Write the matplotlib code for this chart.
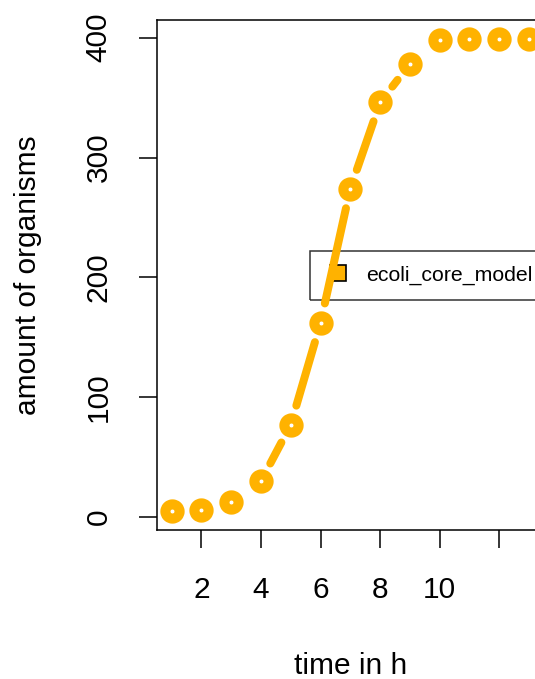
import numpy as np
import matplotlib
matplotlib.use("Agg")
import matplotlib.pyplot as plt
from matplotlib.lines import Line2D

# growth curve
hours = [1, 2, 3, 4, 5, 6, 7, 8, 9, 10, 11, 12, 13]
organisms = [5, 6, 13, 30, 77, 162, 274, 346, 378, 398, 399, 399, 399]
series_name = "ecoli_core_model"
x_ticks = [2, 4, 6, 8, 10, 12]
x_tick_labels = ["2", "4", "6", "8", "10", ""]
y_ticks = [0, 100, 200, 300, 400]

color = "#FFB200"
plt.rcParams["font.family"] = ["Liberation Sans", "DejaVu Sans"]

W, H, DPI = 535, 679, 100
fig = plt.figure(figsize=(W / DPI, H / DPI), dpi=DPI)

# R style: 4% padding on both axes, plot region spills past the right edge
def padded(vals):
    lo, hi = min(vals), max(vals)
    d = (hi - lo) * 0.04
    return lo - d, hi + d

xlim = padded(hours)
ylim = padded(organisms)
ax_left, ax_width = 157.3, 386
ax = fig.add_axes([ax_left / W, (H - 530) / H, ax_width / W, 510 / H])
ax.set_xlim(*xlim)
ax.set_ylim(*ylim)

# type="b": segments shortened by a gap around each point
lw_px = 8
gap_px = 20
pts = ax.transData.transform(np.column_stack([hours, organisms]))
inv = ax.transData.inverted()
for p, q in zip(pts[:-1], pts[1:]):
    d = q - p
    dist = np.hypot(*d)
    if dist <= 2 * gap_px:
        continue
    u = d / dist
    a = inv.transform(p + u * gap_px)
    b = inv.transform(q - u * gap_px)
    ax.plot([a[0], b[0]], [a[1], b[1]], color=color, lw=lw_px * 72 / DPI,
            solid_capstyle="round", zorder=3)

ax.plot(hours, organisms, linestyle="none", marker="o", ms=10.3,
        mfc="white", mec=color, mew=7.2, zorder=4)

for s in ax.spines.values():
    s.set_linewidth(1.1)

ax.set_xticks(x_ticks)
ax.set_xticklabels(x_tick_labels)
ax.set_yticks(y_ticks)
ax.set_yticklabels([str(v) for v in y_ticks], rotation=90, va="center")
ax.tick_params(axis="x", direction="out", length=13, width=1.1,
               labelsize=21.5, pad=20)
ax.tick_params(axis="y", direction="out", length=13, width=1.1,
               labelsize=21.5, pad=19)

ax.set_xlabel("time in h", fontsize=21.5, labelpad=35)
ax.set_ylabel("amount of organisms", fontsize=21.5, labelpad=31)

handle = Line2D([], [], linestyle="none", marker="s", ms=11,
                mfc=color, mec="black", mew=1.2)
leg = ax.legend([handle], [series_name], loc="center left",
                bbox_to_anchor=((310 - ax_left) / ax_width, 0.5),
                borderaxespad=0, fontsize=15.3,
                frameon=True, fancybox=False, edgecolor="black",
                handletextpad=0.7, borderpad=0.7, handlelength=1.23)
leg.get_frame().set_facecolor("none")
leg.get_frame().set_linewidth(1.1)
leg.set_zorder(2)

fig.savefig("out.png", dpi=DPI)
